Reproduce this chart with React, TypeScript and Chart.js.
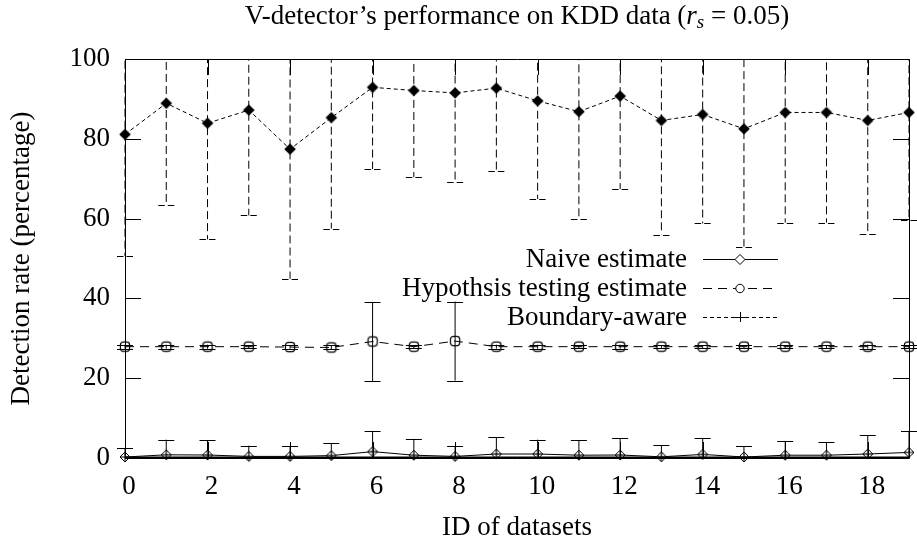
import React, { useEffect, useRef } from 'react';
import { Chart, registerables } from 'chart.js';

Chart.register(...registerables);

// ---------------- data ----------------
const datasetIds = [0, 1, 2, 3, 4, 5, 6, 7, 8, 9, 10, 11, 12, 13, 14, 15, 16, 17, 18, 19];

const seriesLabels = ['Naive estimate', 'Hypothsis testing estimate', 'Boundary-aware'];

const boundaryMeans = [81.1, 88.9, 83.9, 87.2, 77.4, 85.3, 92.9, 92.1, 91.5, 92.7, 89.5, 86.8, 90.7, 84.6, 86.1, 82.5, 86.6, 86.6, 84.6, 86.6];
const boundaryErrors = [30.5, 25.4, 29.1, 26.4, 32.5, 27.8, 20.5, 21.7, 22.4, 20.7, 24.6, 26.9, 23.3, 28.6, 27.3, 29.5, 27.6, 27.6, 28.4, 26.9];

const hypothesisMeans = [27.9, 27.9, 27.9, 27.9, 27.8, 27.7, 29.2, 27.9, 29.3, 27.9, 27.9, 27.9, 27.9, 27.9, 27.9, 27.9, 27.9, 27.9, 27.9, 27.9];
const hypothesisErrors = [0.5, 0.5, 0.5, 0.4, 0.4, 0.5, 9.9, 0.4, 9.9, 0.5, 0.5, 0.4, 0.5, 0.3, 0.3, 0.3, 0.3, 0.3, 0.5, 0.3];

const naiveMeans = [0.25, 0.8, 0.75, 0.4, 0.4, 0.6, 1.6, 0.7, 0.4, 1.0, 1.0, 0.7, 0.75, 0.3, 0.9, 0.25, 0.7, 0.7, 1.0, 1.4];
const naiveErrors = [2.25, 3.8, 3.65, 2.7, 2.5, 3.15, 5.2, 4.1, 2.6, 4.2, 3.6, 3.8, 4.25, 2.9, 4.1, 2.75, 3.55, 3.3, 4.7, 5.4];

const xTickValues = [0, 2, 4, 6, 8, 10, 12, 14, 16, 18];
const yTickValues = [0, 20, 40, 60, 80, 100];

const titleMain = 'V-detector\u2019s performance on KDD data (';
const titleVar = 'r';
const titleSub = 's';
const titleTail = ' = 0.05)';
const xAxisTitle = 'ID of datasets';
const yAxisTitle = 'Detection rate (percentage)';

// ---------------- styling ----------------
const FAMILY = '"Liberation Serif", "Times New Roman", serif';
const FONT_SIZE = 27;
const INK = '#000';

function makeMarker(size: number, draw: (g: CanvasRenderingContext2D, c: number) => void) {
  const cv = document.createElement('canvas');
  cv.width = size;
  cv.height = size;
  const g = cv.getContext('2d') as CanvasRenderingContext2D;
  draw(g, size / 2);
  return cv;
}

function diamondPath(g: CanvasRenderingContext2D, cx: number, cy: number, r: number) {
  g.beginPath();
  g.moveTo(cx, cy - r);
  g.lineTo(cx + r, cy);
  g.lineTo(cx, cy + r);
  g.lineTo(cx - r, cy);
  g.closePath();
}

export default function App() {
  const ref = useRef<HTMLCanvasElement | null>(null);

  useEffect(() => {
    const canvas = ref.current;
    if (!canvas) return;

    const filledDiamond = makeMarker(14, (g, c) => {
      diamondPath(g, c, c, 5.8);
      g.fillStyle = INK;
      g.fill();
    });
    const roundedSquare = makeMarker(14, (g, c) => {
      g.strokeStyle = INK;
      g.lineWidth = 1.2;
      g.beginPath();
      (g as any).roundRect ? (g as any).roundRect(c - 4.6, c - 4.6, 9.2, 9.2, 2.8) : g.rect(c - 4.6, c - 4.6, 9.2, 9.2);
      g.stroke();
    });
    const diamondPlus = makeMarker(14, (g, c) => {
      g.strokeStyle = INK;
      g.lineWidth = 1;
      diamondPath(g, c, c, 5);
      g.fillStyle = 'rgba(255,255,255,0.6)';
      g.fill();
      g.stroke();
      g.beginPath();
      g.moveTo(c - 4, c);
      g.lineTo(c + 4, c);
      g.moveTo(c, c - 4);
      g.lineTo(c, c + 4);
      g.stroke();
    });

    const pts = (vals: number[]) => datasetIds.map((id, i) => ({ x: id, y: vals[i] }));

    const font = { family: FAMILY, size: FONT_SIZE };

    const errorSpecs = [
      { means: boundaryMeans, errs: boundaryErrors, dash: [8, 4] },
      { means: hypothesisMeans, errs: hypothesisErrors, dash: [] as number[] },
      { means: naiveMeans, errs: naiveErrors, dash: [] as number[] },
    ];

    const errorBarPlugin = {
      id: 'errorBars',
      beforeDatasetsDraw(chart: any) {
        const { ctx, chartArea, scales } = chart;
        const xs = scales.x;
        const ys = scales.y;
        const capHalf = 8;
        ctx.save();
        ctx.beginPath();
        ctx.rect(chartArea.left - 20, chartArea.top, chartArea.right - chartArea.left + 40, chartArea.bottom - chartArea.top);
        ctx.clip();
        ctx.strokeStyle = INK;
        ctx.lineWidth = 1;
        errorSpecs.forEach((spec) => {
          datasetIds.forEach((id, i) => {
            const px = xs.getPixelForValue(id);
            const hi = spec.means[i] + spec.errs[i];
            const lo = spec.means[i] - spec.errs[i];
            const pyHi = ys.getPixelForValue(hi);
            const pyLo = ys.getPixelForValue(lo);
            ctx.setLineDash(spec.dash);
            ctx.beginPath();
            ctx.moveTo(px, pyHi);
            ctx.lineTo(px, pyLo);
            ctx.stroke();
            ctx.setLineDash([]);
            [hi, lo].forEach((v) => {
              if (v <= 100 && v >= 0) {
                const py = Math.round(ys.getPixelForValue(v)) + 0.5;
                ctx.beginPath();
                if (spec.dash.length) {
                  ctx.moveTo(px - capHalf, py);
                  ctx.lineTo(px - 1.5, py);
                  ctx.moveTo(px + 1.5, py);
                  ctx.lineTo(px + capHalf, py);
                } else {
                  ctx.moveTo(px - capHalf, py);
                  ctx.lineTo(px + capHalf, py);
                }
                ctx.stroke();
              }
            });
          });
        });
        ctx.restore();
      },
    };

    const framePlugin = {
      id: 'frame',
      afterDatasetsDraw(chart: any) {
        const { ctx, chartArea, scales } = chart;
        const { left, right, top, bottom } = chartArea;
        const tick = 16;
        ctx.save();
        ctx.strokeStyle = INK;
        ctx.lineWidth = 1;
        ctx.setLineDash([]);
        ctx.beginPath();
        ctx.rect(Math.round(left) + 0.5, Math.round(top) + 0.5, Math.round(right - left), Math.round(bottom - top));
        ctx.stroke();
        ctx.lineWidth = 2;
        ctx.beginPath();
        ctx.moveTo(left, Math.round(bottom) - 0.5);
        ctx.lineTo(right, Math.round(bottom) - 0.5);
        ctx.stroke();
        ctx.lineWidth = 1;
        ctx.beginPath();
        yTickValues.forEach((v) => {
          const py = Math.round(scales.y.getPixelForValue(v)) + 0.5;
          ctx.moveTo(left, py);
          ctx.lineTo(left + tick, py);
          ctx.moveTo(right, py);
          ctx.lineTo(right - tick, py);
        });
        xTickValues.forEach((v) => {
          const px = Math.round(scales.x.getPixelForValue(v)) + 0.5;
          ctx.moveTo(px, bottom);
          ctx.lineTo(px, bottom - tick);
          ctx.moveTo(px, top);
          ctx.lineTo(px, top + tick);
        });
        ctx.stroke();
        ctx.restore();
      },
    };

    const legendPlugin = {
      id: 'gnuLegend',
      afterDraw(chart: any) {
        const { ctx } = chart;
        const rows = [
          { label: seriesLabels[0], y: 259, dash: [] as number[], marker: 'diamond' },
          { label: seriesLabels[1], y: 288, dash: [9, 6], marker: 'circle' },
          { label: seriesLabels[2], y: 317, dash: [4, 3], marker: 'plus' },
        ];
        const textRight = 687;
        const sx0 = 703;
        const sx1 = 778;
        const mx = 740;
        ctx.save();
        ctx.font = `${FONT_SIZE}px ${FAMILY}`;
        ctx.fillStyle = INK;
        ctx.textAlign = 'right';
        ctx.textBaseline = 'middle';
        rows.forEach((r) => {
          ctx.fillText(r.label, textRight, r.y + 1);
          ctx.strokeStyle = INK;
          ctx.lineWidth = 1;
          ctx.setLineDash(r.dash);
          ctx.beginPath();
          ctx.moveTo(sx0, r.y + 0.5);
          ctx.lineTo(sx1, r.y + 0.5);
          ctx.stroke();
          ctx.setLineDash([]);
          ctx.beginPath();
          if (r.marker === 'diamond') {
            diamondPath(ctx, mx, r.y + 0.5, 5);
            ctx.fillStyle = '#fff';
            ctx.fill();
            ctx.stroke();
          } else if (r.marker === 'circle') {
            ctx.arc(mx, r.y + 0.5, 4.2, 0, Math.PI * 2);
            ctx.fillStyle = '#fff';
            ctx.fill();
            ctx.stroke();
          } else {
            ctx.moveTo(mx - 5, r.y + 0.5);
            ctx.lineTo(mx + 5, r.y + 0.5);
            ctx.moveTo(mx + 0.5, r.y - 5);
            ctx.lineTo(mx + 0.5, r.y + 5);
            ctx.stroke();
          }
          ctx.fillStyle = INK;
        });
        ctx.restore();
      },
    };

    const titlePlugin = {
      id: 'mathTitle',
      afterDraw(chart: any) {
        const { ctx, chartArea } = chart;
        const normal = `${FONT_SIZE}px ${FAMILY}`;
        const italic = `italic ${FONT_SIZE}px ${FAMILY}`;
        const subFont = `italic ${Math.round(FONT_SIZE * 0.7)}px ${FAMILY}`;
        ctx.save();
        ctx.fillStyle = INK;
        ctx.textBaseline = 'alphabetic';
        ctx.textAlign = 'left';
        ctx.font = normal;
        const w1 = ctx.measureText(titleMain).width;
        const w4 = ctx.measureText(titleTail).width;
        ctx.font = italic;
        const w2 = ctx.measureText(titleVar).width;
        ctx.font = subFont;
        const w3 = ctx.measureText(titleSub).width;
        const total = w1 + w2 + w3 + w4;
        let x = (chartArea.left + chartArea.right) / 2 - total / 2;
        const base = 24;
        ctx.font = normal;
        ctx.fillText(titleMain, x, base);
        x += w1;
        ctx.font = italic;
        ctx.fillText(titleVar, x, base);
        x += w2;
        ctx.font = subFont;
        ctx.fillText(titleSub, x, base + 4);
        x += w3;
        ctx.font = normal;
        ctx.fillText(titleTail, x, base);
        ctx.restore();
      },
    };

    const chart = new Chart(canvas, {
      type: 'line',
      data: {
        datasets: [
          {
            label: seriesLabels[2],
            data: pts(boundaryMeans),
            borderColor: INK,
            borderWidth: 1,
            borderDash: [4, 3],
            pointStyle: filledDiamond as any,
            pointRadius: 6,
            tension: 0,
            clip: false as any,
          },
          {
            label: seriesLabels[1],
            data: pts(hypothesisMeans),
            borderColor: INK,
            borderWidth: 1,
            borderDash: [9, 6],
            pointStyle: roundedSquare as any,
            pointRadius: 6,
            tension: 0,
            clip: false as any,
          },
          {
            label: seriesLabels[0],
            data: pts(naiveMeans),
            borderColor: INK,
            borderWidth: 1,
            pointStyle: diamondPlus as any,
            pointRadius: 6,
            tension: 0,
            clip: false as any,
          },
        ],
      },
      options: {
        animation: false,
        responsive: false,
        maintainAspectRatio: false,
        events: [],
        layout: { padding: { top: 59, right: 8, bottom: 0, left: 0 } },
        plugins: {
          legend: { display: false },
          title: { display: false },
          tooltip: { enabled: false },
        },
        scales: {
          x: {
            type: 'linear',
            min: 0,
            max: 19,
            grid: { display: false, drawTicks: false },
            border: { display: false },
            ticks: { font, color: INK, padding: 13, autoSkip: false, maxRotation: 0, labelOffset: 4 },
            afterBuildTicks: (s: any) => {
              s.ticks = xTickValues.map((v) => ({ value: v }));
            },
            afterFit: (s: any) => {
              s.height = 88;
            },
            title: { display: true, text: xAxisTitle, font, color: INK, padding: { top: 0, bottom: 2 } },
          },
          y: {
            type: 'linear',
            min: 0,
            max: 100,
            grid: { display: false, drawTicks: false },
            border: { display: false },
            ticks: { font, color: INK, padding: 15, autoSkip: false },
            afterBuildTicks: (s: any) => {
              s.ticks = yTickValues.map((v) => ({ value: v }));
            },
            afterFit: (s: any) => {
              s.width = 125;
            },
            title: { display: true, text: yAxisTitle, font, color: INK, padding: { top: 6, bottom: 0 } },
          },
        },
      } as any,
      plugins: [errorBarPlugin, framePlugin, legendPlugin, titlePlugin],
    });

    return () => chart.destroy();
  }, []);

  return (
    <div style={{ position: 'fixed', left: 0, top: 0, width: 917, height: 546, background: '#fff' }}>
      <canvas ref={ref} width={917} height={546} style={{ display: 'block', width: 917, height: 546 }} />
    </div>
  );
}
